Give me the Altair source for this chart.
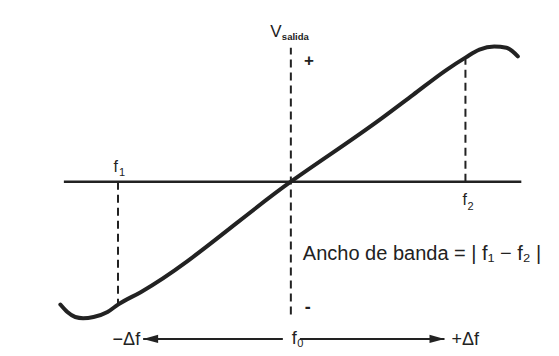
import altair as alt
import pandas as pd

# ---- data (normalized units: frequency so that f1=-1, f2=+1; output voltage) ----
CURVE_F = [-1.32, -1.28, -1.235, -1.19, -1.13, -1.05, -0.99, -0.86, 0.0,
           0.51, 0.70, 0.89, 1.0, 1.08, 1.165, 1.235, 1.30]
CURVE_V = [-0.99, -1.05, -1.09, -1.10, -1.09, -1.05, -0.99, -0.89, 0.0,
           0.50, 0.70, 0.90, 1.0, 1.065, 1.09, 1.08, 1.01]

F0, F1, F2 = 0.0, -0.99, 1.0
V_AT_F1, V_AT_F2 = -0.99, 1.0
FREQ_AXIS = (-1.30, 1.32)
VOLT_AXIS = (-1.07, 1.08)
DELTA_F = (-0.846, 0.88)
ARROW_V = -1.267
NOTE_V = -0.63

Y_TITLE = ("V", "salida")
F_LABELS = ("f", "0", "1", "2")
DF_LABELS = ("−Δf", "+Δf")
SIGNS = ("+", "-")
NOTE = "Ancho de banda = | f₁ − f₂ |"

# ---- styling ----
XS = alt.Scale(domain=[-1.62, 1.49], nice=False, zero=False)
YS = alt.Scale(domain=[-1.34, 1.40], nice=False, zero=False)
INK = "#222222"
FONT = "Liberation Sans"


def enc_x():
    return alt.X("f:Q", scale=XS, axis=None)


def enc_y():
    return alt.Y("v:Q", scale=YS, axis=None)


def label(text, f, v, size, dx=0, dy=0, align="center", baseline="alphabetic", weight="normal"):
    df = pd.DataFrame({"f": [f], "v": [v], "t": [text]})
    return alt.Chart(df).mark_text(
        align=align, baseline=baseline, dx=dx, dy=dy, fontSize=size,
        font=FONT, fontWeight=weight, color=INK
    ).encode(x=enc_x(), y=enc_y(), text="t:N")


def hrule(f_a, f_b, v, xoff=0, width=2.5, dash=None):
    df = pd.DataFrame({"f": [f_a], "f2": [f_b], "v": [v]})
    kw = dict(color=INK, strokeWidth=width, xOffset=xoff)
    if dash:
        kw["strokeDash"] = dash
    return alt.Chart(df).mark_rule(**kw).encode(x=enc_x(), x2="f2:Q", y=enc_y())


def vrule(f, v_a, v_b, dash=(8, 5), width=2):
    df = pd.DataFrame({"f": [f], "v": [v_a], "v2": [v_b]})
    return alt.Chart(df).mark_rule(color=INK, strokeWidth=width, strokeDash=list(dash)).encode(
        x=enc_x(), y=enc_y(), y2="v2:Q")


def arrow_head(f, v, path):
    df = pd.DataFrame({"f": [f], "v": [v]})
    return alt.Chart(df).mark_point(shape=path, size=225, filled=True, color=INK,
                                    opacity=1, strokeWidth=0).encode(x=enc_x(), y=enc_y())


curve_df = pd.DataFrame({"f": CURVE_F, "v": CURVE_V})
curve = alt.Chart(curve_df).mark_line(
    interpolate="monotone", color=INK, strokeWidth=4, strokeCap="round"
).encode(x=enc_x(), y=enc_y())

layers = [
    hrule(FREQ_AXIS[0], FREQ_AXIS[1], 0.0, width=2.5),
    vrule(F0, VOLT_AXIS[0], VOLT_AXIS[1]),
    vrule(F1, 0.0, V_AT_F1),
    vrule(F2, 0.0, V_AT_F2),
    curve,
    # bottom arrows
    hrule(F0, DELTA_F[0], ARROW_V, xoff=-8, width=2),
    hrule(F0, DELTA_F[1], ARROW_V, xoff=9, width=2),
    arrow_head(DELTA_F[0], ARROW_V, "M0,0L2,-0.55L2,0.55Z"),
    arrow_head(DELTA_F[1], ARROW_V, "M0,0L-2,-0.55L-2,0.55Z"),
    # axis title
    label(Y_TITLE[0], F0, VOLT_AXIS[1], 17, dx=-15, dy=-11),
    label(Y_TITLE[1], F0, VOLT_AXIS[1], 9.5, dx=-9, dy=-8, align="left", weight="bold"),
    label(SIGNS[0], F0, VOLT_AXIS[1], 17, dx=18, dy=13, baseline="middle", weight="bold"),
    label(SIGNS[1], F0, VOLT_AXIS[0], 18, dx=17, dy=-6, baseline="middle", weight="bold"),
    # f labels
    label(F_LABELS[0], F1, 0.0, 16, dx=0, dy=-10, align="right"),
    label(F_LABELS[2], F1, 0.0, 11, dx=1, dy=-5.5, align="left"),
    label(F_LABELS[0], F2, 0.0, 16, dx=1.5, dy=23, align="right"),
    label(F_LABELS[3], F2, 0.0, 11, dx=2, dy=28, align="left"),
    label(F_LABELS[0], F0, ARROW_V, 18, dx=6, dy=5, align="right"),
    label(F_LABELS[1], F0, ARROW_V, 11, dx=6.5, dy=8.5, align="left"),
    label(DF_LABELS[0], DELTA_F[0], ARROW_V, 18, dx=-3, dy=6, align="right"),
    label(DF_LABELS[1], DELTA_F[1], ARROW_V, 18, dx=7, dy=6, align="left"),
    # note
    label(NOTE, F0, NOTE_V, 20, dx=12, align="left"),
]

chart = alt.layer(*layers).properties(
    width=543, height=340, padding=0,
    autosize=alt.AutoSizeParams(type="none"),
    background="white",
).configure_view(stroke=None)

chart.save("out.html", embed_options={"renderer": "svg", "actions": False})
